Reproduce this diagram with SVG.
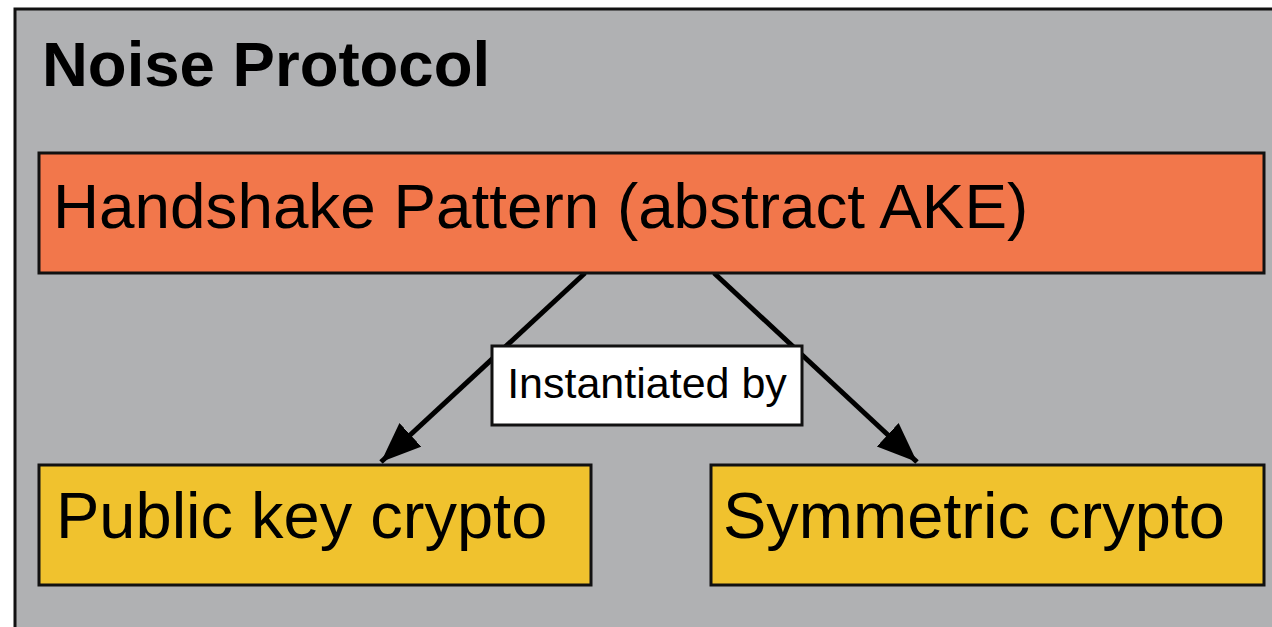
<svg xmlns="http://www.w3.org/2000/svg" width="1272" height="627" viewBox="0 0 1272 627">
  <style>
    .frame { fill: #b0b1b3; stroke: #111; stroke-width: 3; }
    .box { stroke: #111; stroke-width: 3; }
    .orange { fill: #f2774b; }
    .yellow { fill: #f0c22e; }
    .label-bg { fill: #ffffff; stroke: #111; stroke-width: 3; }
    .txt { font-family: "Liberation Sans", Arial, Helvetica, sans-serif; fill: #000; }
    .edge { stroke: #000; stroke-width: 5; fill: none; }
  </style>
  <defs>
    <marker id="arrow" markerUnits="userSpaceOnUse" markerWidth="44" markerHeight="34" refX="40" refY="16" orient="auto">
      <path d="M0,0 L40,16 L0,32 Z" fill="#000"/>
    </marker>
  </defs>

  <rect width="1272" height="627" fill="#ffffff"/>

  <g id="noise-protocol">
    <rect class="frame" x="15" y="9" width="1280" height="640"/>
    <text class="txt" x="42" y="86" font-size="63.5" font-weight="bold">Noise Protocol</text>
  </g>

  <g id="connectors">
    <line class="edge" x1="585" y1="273" x2="381" y2="462" marker-end="url(#arrow)"/>
    <line class="edge" x1="714" y1="273" x2="917" y2="462" marker-end="url(#arrow)"/>
  </g>

  <g id="handshake-pattern">
    <rect class="box orange" x="39" y="153" width="1225" height="120"/>
    <text class="txt" x="53" y="228" font-size="63.8">Handshake Pattern (abstract AKE)</text>
  </g>

  <g id="edge-label">
    <rect class="label-bg" x="492" y="346" width="310" height="79"/>
    <text class="txt" x="647" y="398" font-size="43" text-anchor="middle">Instantiated by</text>
  </g>

  <g id="public-key-crypto">
    <rect class="box yellow" x="39" y="465" width="552" height="120"/>
    <text class="txt" x="56" y="538" font-size="65">Public key crypto</text>
  </g>

  <g id="symmetric-crypto">
    <rect class="box yellow" x="711" y="465" width="553" height="120"/>
    <text class="txt" x="723" y="538" font-size="65">Symmetric crypto</text>
  </g>
</svg>
